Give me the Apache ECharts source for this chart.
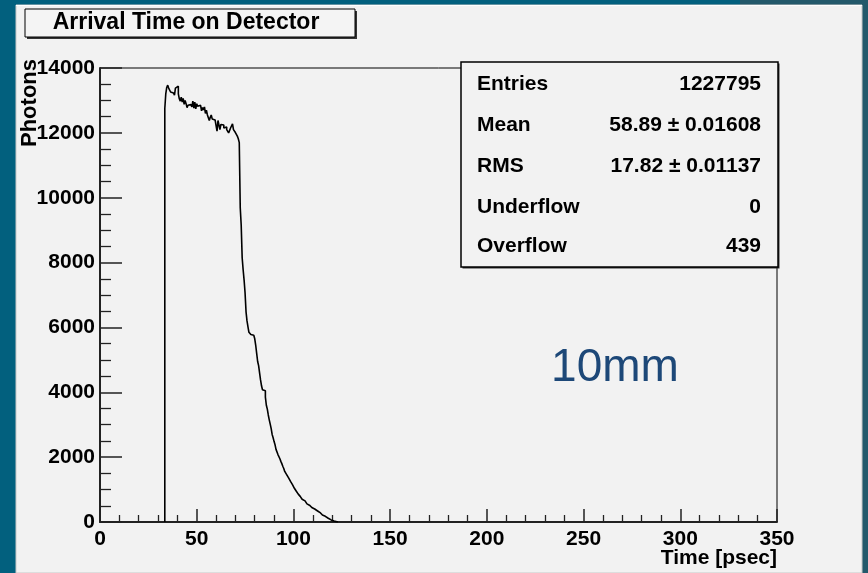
<!DOCTYPE html>
<html>
<head>
<meta charset="utf-8">
<script src="https://cdn.jsdelivr.net/npm/echarts@6/dist/echarts.min.js"></script>
<style>
html,body{margin:0;padding:0;background:#02607e;}
#chart{width:868px;height:573px;}
</style>
</head>
<body>
<div id="chart"></div>
<script>
// Histogram: photon arrival time, 0.5 psec bins starting at 33.5 psec
const BIN_START = 33.5;
const BIN_WIDTH = 0.5;
const counts = [
  12750,13200,13400,13470,13380,13330,13260,13300,13230,13200,
  13160,13380,13420,13440,13200,13050,12980,13100,12950,13060,
  12880,13000,12900,12780,12850,12900,12870,12920,12800,12980,
  12760,12950,12740,12900,12820,12780,12850,12830,12680,12780,
  12710,12800,12600,12700,12560,12620,12380,12480,12550,12430,
  12460,12400,12380,12420,12050,12380,12430,12100,12260,12200,
  12240,12150,12200,12180,12100,12120,12000,12040,12150,12200,
  12280,12100,12050,12010,11960,11900,11820,11700,9700,9150,
  8150,7780,7460,7060,6480,6200,6020,5850,5870,5780,
  5820,5760,5700,5650,5450,5200,4950,4820,4600,4380,
  4200,4080,4070,4050,3850,3600,3480,3300,3150,3020,
  2880,2700,2600,2480,2380,2240,2180,2080,2020,1950,
  1870,1800,1720,1650,1560,1520,1460,1400,1360,1300,
  1250,1190,1150,1090,1040,990,950,900,860,820,
  790,740,700,680,650,620,590,560,540,510,
  490,470,445,430,400,380,360,340,320,300,
  280,260,240,215,195,175,150,130,115,95,
  80,65,50,40,30,20,12,6,3
];
const xTicks = [0, 50, 100, 150, 200, 250, 300, 350];
const yTicks = [0, 2000, 4000, 6000, 8000, 10000, 12000, 14000];
const statNames = ['Entries', 'Mean', 'RMS', 'Underflow', 'Overflow'];
const statValues = ['1227795', '58.89 \u00b1 0.01608', '17.82 \u00b1 0.01137', '0', '439'];
const titleText = 'Arrival Time on Detector';
const xName = 'Time [psec]';
const yName = 'Photons';
const noteText = '10mm';

// build step-line points from bins
const lineData = [[BIN_START, 0]];
counts.forEach((c, i) => lineData.push([BIN_START + i * BIN_WIDTH, c]));
lineData.push([BIN_START + counts.length * BIN_WIDTH, 0]);

const chart = echarts.init(document.getElementById('chart'), null, {renderer: 'canvas'});
const FONT = 'Liberation Sans, Arial, Helvetica, sans-serif';

const graphics = [
  {type: 'rect', z: -10, silent: true, shape: {x: 740, y: 0, width: 128, height: 6}, style: {fill: '#24596b'}},
  {type: 'rect', z: -10, silent: true, shape: {x: 862, y: 0, width: 6, height: 573}, style: {fill: '#24596b'}},
  {type: 'rect', z: -9, silent: true, shape: {x: 16, y: 5, width: 846, height: 568}, style: {fill: '#f2f2f2', stroke: '#c8c8c8', lineWidth: 1}},
  {type: 'line', z: -8, silent: true, shape: {x1: 16, y1: 5.5, x2: 862, y2: 5.5}, style: {stroke: '#ffffff', lineWidth: 1}},
  // title box with shadow
  {type: 'rect', z: 5, silent: true, shape: {x: 27, y: 11, width: 330, height: 28}, style: {fill: '#333'}},
  {type: 'rect', z: 6, silent: true, shape: {x: 25, y: 9, width: 330, height: 28}, style: {fill: '#f4f4f4', stroke: '#000', lineWidth: 1}},
  {type: 'text', z: 7, silent: true, x: 186, y: 23, style: {text: titleText, font: 'bold 23px ' + FONT, fill: '#000', align: 'center', verticalAlign: 'middle'}},
  // stats box
  {type: 'rect', z: 5, silent: true, shape: {x: 462.5, y: 63.5, width: 317, height: 205}, style: {fill: '#333'}},
  {type: 'rect', z: 6, silent: true, shape: {x: 461, y: 62, width: 317, height: 205}, style: {fill: '#f2f2f2', stroke: '#000', lineWidth: 1.5}},
  // axis names
  {type: 'text', z: 7, silent: true, x: 30, y: 59, rotation: Math.PI / 2, style: {text: yName, font: 'bold 22px ' + FONT, fill: '#000', align: 'right', verticalAlign: 'middle'}},
  {type: 'text', z: 7, silent: true, x: 777, y: 558, style: {text: xName, font: 'bold 21px ' + FONT, fill: '#000', align: 'right', verticalAlign: 'middle'}},
  {type: 'text', z: 7, silent: true, x: 615, y: 368, style: {text: noteText, font: '46px ' + FONT, fill: '#1d4878', align: 'center', verticalAlign: 'middle'}}
];
const rowY = [84, 125, 166, 207, 246];
statNames.forEach((n, i) => {
  graphics.push({type: 'text', z: 7, silent: true, x: 477, y: rowY[i], style: {text: n, font: 'bold 21px ' + FONT, fill: '#000', align: 'left', verticalAlign: 'middle'}});
  graphics.push({type: 'text', z: 7, silent: true, x: 761, y: rowY[i], style: {text: statValues[i], font: 'bold 21px ' + FONT, fill: '#000', align: 'right', verticalAlign: 'middle'}});
});

const option = {
  backgroundColor: '#02607e',
  animation: false,
  grid: {left: 100, right: 91, top: 68, bottom: 51, show: true, borderColor: '#000', borderWidth: 1, backgroundColor: 'transparent'},
  xAxis: {
    type: 'value', min: xTicks[0], max: xTicks[xTicks.length - 1], interval: 50,
    axisLine: {show: true, onZero: false, lineStyle: {color: '#222', width: 2}},
    axisTick: {show: true, inside: true, length: 13, lineStyle: {color: '#222', width: 1.5}},
    minorTick: {show: true, splitNumber: 5, length: 7, lineStyle: {color: '#222', width: 1.3}},
    splitLine: {show: false},
    axisLabel: {color: '#000', fontFamily: FONT, fontWeight: 'bold', fontSize: 21, margin: 7, showMinLabel: true, showMaxLabel: true, formatter: v => String(v)}
  },
  yAxis: {
    type: 'value', min: yTicks[0], max: yTicks[yTicks.length - 1], interval: 2000,
    axisLine: {show: true, onZero: false, lineStyle: {color: '#222', width: 2}},
    axisTick: {show: true, inside: true, length: 22, lineStyle: {color: '#222', width: 1.5}},
    minorTick: {show: true, splitNumber: 4, length: 11, lineStyle: {color: '#222', width: 1.3}},
    splitLine: {show: false},
    axisLabel: {color: '#000', fontFamily: FONT, fontWeight: 'bold', fontSize: 21, margin: 5, showMinLabel: true, showMaxLabel: true, formatter: v => String(v)}
  },
  graphic: graphics,
  series: [{
    type: 'line', step: 'end', data: lineData, symbol: 'none', silent: true,
    lineStyle: {color: '#000', width: 1.6}, z: 3
  }]
};
chart.setOption(option);
</script>
</body>
</html>
